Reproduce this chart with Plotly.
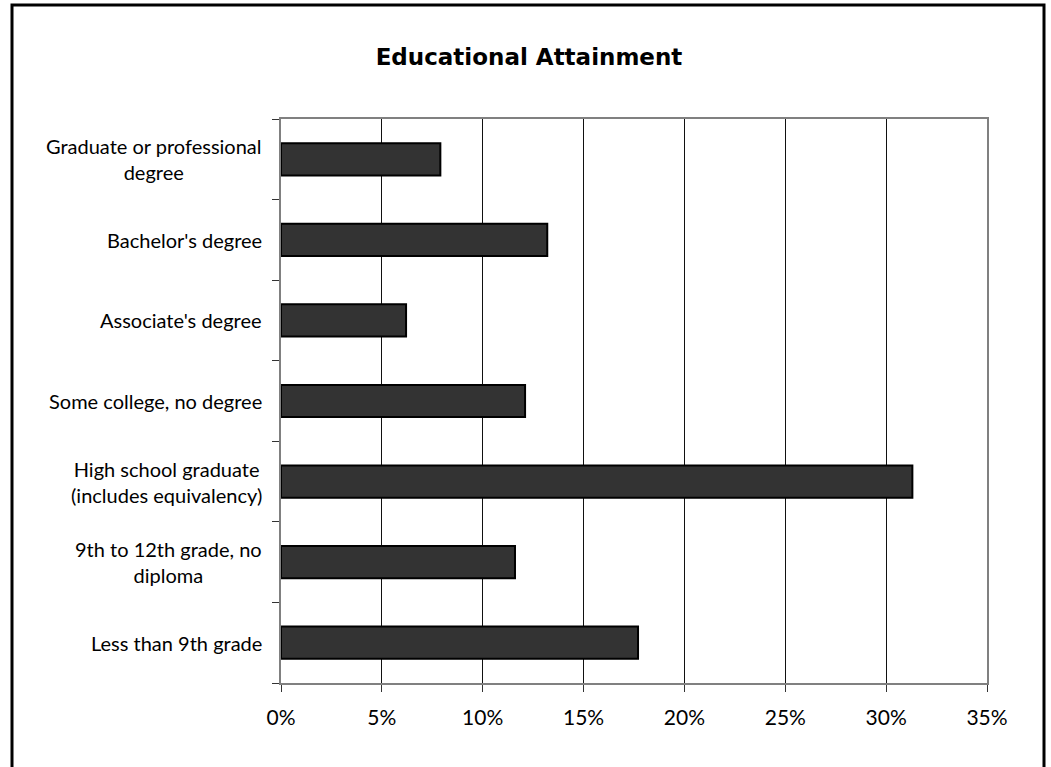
import plotly.graph_objects as go

# Data (bottom to top in plot order)
categories = [
    "Less than 9th grade",
    "9th to 12th grade, no diploma",
    "High school graduate (includes equivalency)",
    "Some college, no degree",
    "Associate's degree",
    "Bachelor's degree",
    "Graduate or professional degree",
]
label_text = [
    "Less than 9th grade",
    "9th to 12th grade, no<br>diploma",
    "High school graduate<br>(includes equivalency)",
    "Some college, no degree",
    "Associate's degree",
    "Bachelor's degree",
    "Graduate or professional<br>degree",
]
values = [0.177, 0.116, 0.313, 0.121, 0.062, 0.132, 0.079]
x_tickvals = [0, 0.05, 0.10, 0.15, 0.20, 0.25, 0.30, 0.35]
x_ticktext = ["0%", "5%", "10%", "15%", "20%", "25%", "30%", "35%"]
title_text = "Educational Attainment"

FONT = "Lato, 'Open Sans', sans-serif"
TITLE_FONT = "'DejaVu Sans', Lato, sans-serif"
W, H = 1051, 767
L, R, T, B = 281, 64, 119, 84

fig = go.Figure()
fig.add_trace(go.Bar(
    x=values, y=categories, orientation="h",
    marker=dict(color="#333333", line=dict(color="#000000", width=2)),
    hoverinfo="x+y",
))

annotations = []
for cat, txt in zip(categories, label_text):
    annotations.append(dict(
        x=-0.024, xref="paper", y=cat, yref="y", text=txt,
        showarrow=False, xanchor="right", yanchor="middle", align="center",
        font=dict(family=FONT, size=20, color="#000000"),
    ))

pw = W - L - R
ph = H - T - B
shapes = [dict(
    type="rect", xref="paper", yref="paper",
    x0=(12 - L) / pw, x1=(1044 - L) / pw,
    y0=(H - T - 790) / ph, y1=(ph + (T - 5)) / ph,
    line=dict(color="#000000", width=3), fillcolor="rgba(0,0,0,0)", layer="below",
)]

fig.update_layout(
    width=W, height=H,
    margin=dict(l=L, r=R, t=T, b=B, pad=0),
    paper_bgcolor="#ffffff", plot_bgcolor="#ffffff",
    showlegend=False,
    bargap=0.6,
    title=dict(text="<b>" + title_text + "</b>", x=529 / W, xanchor="center",
               y=1 - 57 / H, yanchor="middle", yref="container",
               font=dict(family=TITLE_FONT, size=23, color="#000000")),
    xaxis=dict(
        range=[0, 0.35], tickvals=x_tickvals, ticktext=x_ticktext,
        showgrid=True, gridcolor="#111111", gridwidth=1,
        showline=True, linecolor="#808080", linewidth=2, mirror=True,
        ticks="outside", ticklen=7, tickwidth=1, tickcolor="#333333",
        tickfont=dict(family=FONT, size=21, color="#000000"),
        zeroline=False, fixedrange=True, ticklabelstandoff=8,
    ),
    yaxis=dict(
        categoryorder="array", categoryarray=categories,
        showticklabels=False, showgrid=False,
        showline=True, linecolor="#808080", linewidth=2, mirror=True,
        ticks="outside", ticklen=7, tickwidth=1, tickcolor="#333333",
        tickson="boundaries", fixedrange=True,
    ),
    annotations=annotations,
    shapes=shapes,
)

fig.write_html(
    "out.html",
    config={"displayModeBar": False, "staticPlot": False},
    post_script="document.documentElement.style.margin='0';document.body.style.margin='0';"
                "document.body.style.overflow='hidden';",
)
